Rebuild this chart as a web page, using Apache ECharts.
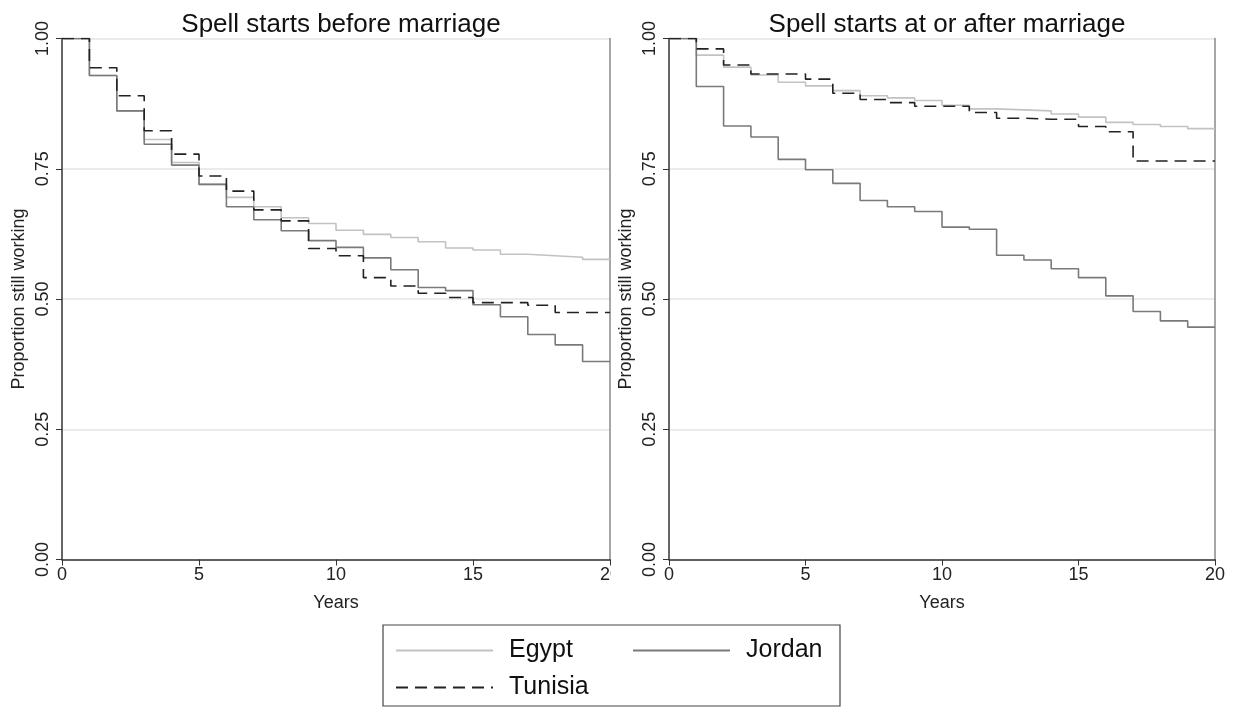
<!DOCTYPE html>
<html>
<head>
<meta charset="utf-8">
<script src="https://cdn.jsdelivr.net/npm/echarts@6/dist/echarts.min.js"></script>
<style>
  html, body { margin: 0; padding: 0; background: #fff; }
  #chart { width: 1233px; height: 709px; }
</style>
</head>
<body>
<div id="chart"></div>
<script>
// years at which each step starts (last entry closes the final step)
const years = [0, 1, 2, 3, 4, 5, 6, 7, 8, 9, 10, 11, 12, 13, 14, 15, 16, 17, 18, 19, 20];

// Spell starts before marriage
const beforeEgypt = [1.000, 0.929, 0.861, 0.806, 0.762, 0.720, 0.695, 0.677, 0.656, 0.645, 0.632, 0.624, 0.618, 0.610, 0.598, 0.594, 0.586, 0.583, 0.580, 0.576, 0.576];
const beforeJordan = [1.000, 0.929, 0.861, 0.797, 0.757, 0.720, 0.677, 0.652, 0.631, 0.612, 0.599, 0.579, 0.556, 0.522, 0.516, 0.489, 0.466, 0.432, 0.412, 0.380, 0.380];
const beforeTunisia = [1.000, 0.944, 0.890, 0.823, 0.778, 0.736, 0.707, 0.671, 0.650, 0.597, 0.583, 0.541, 0.525, 0.511, 0.503, 0.493, 0.493, 0.488, 0.474, 0.474, 0.474];

// Spell starts at or after marriage
const afterEgypt = [1.000, 0.968, 0.945, 0.930, 0.916, 0.909, 0.900, 0.890, 0.886, 0.881, 0.872, 0.865, 0.863, 0.861, 0.855, 0.849, 0.839, 0.835, 0.831, 0.827, 0.827];
const afterJordan = [1.000, 0.908, 0.832, 0.811, 0.768, 0.748, 0.722, 0.689, 0.677, 0.668, 0.638, 0.634, 0.584, 0.575, 0.558, 0.541, 0.506, 0.476, 0.458, 0.446, 0.446];
const afterTunisia = [1.000, 0.980, 0.949, 0.932, 0.932, 0.922, 0.895, 0.883, 0.877, 0.870, 0.870, 0.858, 0.847, 0.845, 0.845, 0.831, 0.821, 0.765, 0.765, 0.765, 0.765];

const panelTitles = ["Spell starts before marriage", "Spell starts at or after marriage"];

const FONT = "Liberation Sans, Arial, Helvetica, sans-serif";
const colors = { Egypt: "#c2c2c2", Jordan: "#7a7a7a", Tunisia: "#222222" };

function pairs(vals) {
  return years.map((y, i) => [y, vals[i]]);
}

function xAxisFor(idx) {
  return {
    type: "value", gridIndex: idx, min: 0, max: 20, interval: 5,
    name: "Years", nameLocation: "middle", nameGap: 35,
    nameTextStyle: { fontSize: 18, color: "#222", fontFamily: FONT },
    axisLine: { show: true, lineStyle: { color: "#333", width: 1.5 } },
    axisTick: { show: true, length: 6, lineStyle: { color: "#333" } },
    axisLabel: { fontSize: 18, color: "#222", margin: 7, fontFamily: FONT, showMaxLabel: true, showMinLabel: true },
    splitLine: { show: false }
  };
}

function yAxisFor(idx) {
  return {
    type: "value", gridIndex: idx, min: 0, max: 1, interval: 0.25,
    name: "Proportion still working", nameLocation: "middle", nameGap: 34,
    nameTextStyle: { fontSize: 18, color: "#222", fontFamily: FONT },
    axisLine: { show: true, lineStyle: { color: "#333", width: 1.5 } },
    axisTick: { show: true, length: 6, lineStyle: { color: "#333" } },
    axisLabel: {
      fontSize: 18, color: "#222", margin: 10, rotate: 90, fontFamily: FONT,
      formatter: v => v.toFixed(2)
    },
    splitLine: { show: true, lineStyle: { color: "#e4e4e4", width: 1.5 } }
  };
}

function edgeAxis(idx) {
  return {
    type: "value", gridIndex: idx, min: 0, max: 1, position: "right",
    axisLine: { show: true, lineStyle: { color: "#8a8a8a", width: 1.5 } },
    axisTick: { show: false }, axisLabel: { show: false }, splitLine: { show: false }
  };
}

function stepSeries(name, vals, idx) {
  return {
    name: name, type: "line", step: "end",
    xAxisIndex: idx, yAxisIndex: idx,
    data: pairs(vals), symbol: "none", showSymbol: false, silent: true,
    lineStyle: {
      color: colors[name], width: 1.6,
      type: name === "Tunisia" ? [12, 7] : "solid"
    },
    itemStyle: { color: colors[name] }
  };
}

const chart = echarts.init(document.getElementById("chart"), null, { renderer: "canvas" });

chart.setOption({
  animation: false,
  backgroundColor: "#fff",
  textStyle: { fontFamily: FONT },
  title: [
    { text: panelTitles[0], left: 336, top: 7, textAlign: "center",
      textStyle: { fontSize: 26, fontWeight: "normal", color: "#111", fontFamily: FONT } },
    { text: panelTitles[1], left: 942, top: 7, textAlign: "center",
      textStyle: { fontSize: 26, fontWeight: "normal", color: "#111", fontFamily: FONT } }
  ],
  grid: [
    { left: 62, top: 38.5, width: 548, height: 521 },
    { left: 669, top: 38.5, width: 546, height: 521 }
  ],
  xAxis: [xAxisFor(0), xAxisFor(1)],
  yAxis: [yAxisFor(0), yAxisFor(1), edgeAxis(0), edgeAxis(1)],
  legend: {
    left: 383, top: 625, width: 440,
    orient: "horizontal",
    padding: [12, 14, 5, 12],
    itemGap: 10,
    itemWidth: 97, itemHeight: 14,
    borderColor: "#444", borderWidth: 1.2,
    selectedMode: false,
    itemStyle: { opacity: 0 },
    lineStyle: { width: 2 },
    textStyle: { fontSize: 25, color: "#111", fontFamily: FONT, width: 113, lineHeight: 27, padding: [0, 0, 0, 11] },
    data: [
      { name: "Egypt" },
      { name: "Jordan", textStyle: { width: 80 } },
      { name: "Tunisia" }
    ]
  },
  // the left panel is cut at its right edge in the original figure
  graphic: [
    { type: "rect", shape: { x: 611, y: 562, width: 10, height: 24 }, style: { fill: "#fff" }, z: 100 }
  ],
  series: [
    stepSeries("Egypt", beforeEgypt, 0),
    stepSeries("Jordan", beforeJordan, 0),
    stepSeries("Tunisia", beforeTunisia, 0),
    stepSeries("Egypt", afterEgypt, 1),
    stepSeries("Jordan", afterJordan, 1),
    stepSeries("Tunisia", afterTunisia, 1)
  ]
});
</script>
</body>
</html>
